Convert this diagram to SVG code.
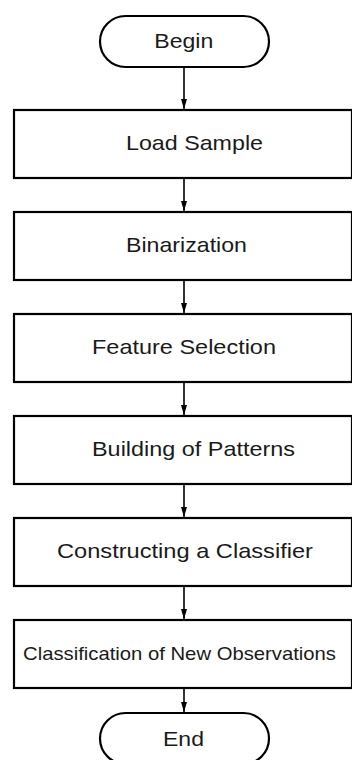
<svg xmlns="http://www.w3.org/2000/svg" width="352" height="760" viewBox="0 0 352 760">
<style>
.box{fill:#fff;stroke:#000;stroke-width:2.2}
.term{fill:#fff;stroke:#000;stroke-width:2.2}
.lbl{font-family:"Liberation Sans",Arial,sans-serif;font-size:21px;fill:#1a1a1a}
.sm{font-size:18.5px}
.conn line{stroke:#000;stroke-width:1.6}
</style>
<defs>
<marker id="ah" markerWidth="6" markerHeight="10" refX="6" refY="5" orient="auto" markerUnits="userSpaceOnUse" viewBox="0 0 10 10" preserveAspectRatio="none">
<path d="M0,2 L10,5 L0,8 Z" fill="#000"/>
</marker>
<marker id="arr" markerWidth="10" markerHeight="6" refX="10" refY="3" orient="auto" markerUnits="userSpaceOnUse">
<path d="M0,0 L10,3 L0,6 Z" fill="#000"/>
</marker>
</defs>
<rect width="352" height="760" fill="#fff"/>
<g id="connectors" class="conn">
<line x1="184" y1="67" x2="184" y2="109" marker-end="url(#arr)"/>
<line x1="184" y1="178" x2="184" y2="211" marker-end="url(#arr)"/>
<line x1="184" y1="280" x2="184" y2="313" marker-end="url(#arr)"/>
<line x1="184" y1="382" x2="184" y2="415" marker-end="url(#arr)"/>
<line x1="184" y1="484" x2="184" y2="517" marker-end="url(#arr)"/>
<line x1="184" y1="586" x2="184" y2="619" marker-end="url(#arr)"/>
<line x1="184" y1="688" x2="184" y2="712" marker-end="url(#arr)"/>
</g>
<g id="begin">
<rect class="term" x="100" y="16" width="169" height="51" rx="25.5" ry="25.5"/>
<text class="lbl" x="154.3" y="47.5" textLength="59" lengthAdjust="spacingAndGlyphs">Begin</text>
</g>
<g id="load-sample">
<rect class="box" x="14" y="110" width="338" height="68"/>
<text class="lbl" x="126" y="150" textLength="137" lengthAdjust="spacingAndGlyphs">Load Sample</text>
</g>
<g id="binarization">
<rect class="box" x="14" y="212" width="338" height="68"/>
<text class="lbl" x="126" y="252" textLength="121" lengthAdjust="spacingAndGlyphs">Binarization</text>
</g>
<g id="feature-selection">
<rect class="box" x="14" y="314" width="338" height="68"/>
<text class="lbl" x="92" y="354" textLength="184" lengthAdjust="spacingAndGlyphs">Feature Selection</text>
</g>
<g id="building-patterns">
<rect class="box" x="14" y="416" width="338" height="68"/>
<text class="lbl" x="92" y="456" textLength="203" lengthAdjust="spacingAndGlyphs">Building of Patterns</text>
</g>
<g id="constructing-classifier">
<rect class="box" x="14" y="518" width="338" height="68"/>
<text class="lbl" x="57" y="558" textLength="256" lengthAdjust="spacingAndGlyphs">Constructing a Classifier</text>
</g>
<g id="classification">
<rect class="box" x="14" y="620" width="338" height="68"/>
<text class="lbl sm" x="23" y="660" textLength="313" lengthAdjust="spacingAndGlyphs">Classification of New Observations</text>
</g>
<g id="end">
<rect class="term" x="100" y="713" width="169" height="51" rx="25.5" ry="25.5"/>
<text class="lbl" x="163" y="745.5" textLength="41" lengthAdjust="spacingAndGlyphs">End</text>
</g>
</svg>
